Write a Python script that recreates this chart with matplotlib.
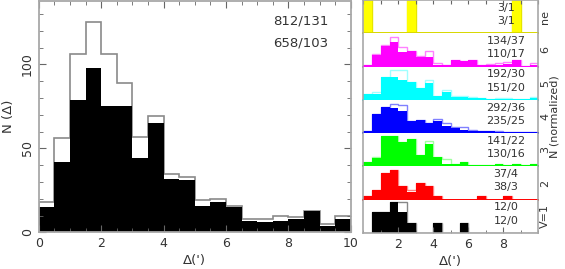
import numpy as np
import matplotlib
matplotlib.use("Agg")
import matplotlib.pyplot as plt
from matplotlib.ticker import MultipleLocator

# bins of 0.5 arcmin from 0 to 10
edges = np.arange(0, 10.01, 0.5)

# left panel: all pairs (outline) and pairs with a second criterion (black)
all_counts = [18, 56, 106, 125, 106, 89, 57, 69, 35, 33,
              19, 20, 16, 8, 8, 10, 9, 13, 5, 10]
sel_counts = [15, 42, 79, 98, 75, 75, 44, 65, 32, 31,
              16, 18, 15, 7, 6, 7, 8, 13, 4, 8]
left_text = ["812/131", "658/103"]

# right panels, top to bottom (normalized heights, % of panel)
row_names = ["ne", "6", "5", "4", "3", "2", "V=1"]
row_fill = ["#ffff00", "#ff00ff", "#00ffff", "#0000ff", "#00ff00", "#ff0000", "#000000"]
row_edge = ["#e6e600", "#ff80ff", "#a0ffff", "#8080ff", "#a0ffa0", "#ff8080", "#888888"]
row_text = [["3/1", "3/1"], ["134/37", "110/17"], ["192/30", "151/20"],
            ["292/36", "235/25"], ["141/22", "130/16"], ["37/4", "38/3"],
            ["12/0", "12/0"]]
ne_out = [100, 0, 0, 0, 0, 100, 0, 0, 0, 0, 0, 0, 0, 0, 0, 0, 0, 100, 0, 0]
ne_fill = [100, 0, 0, 0, 0, 100, 0, 0, 0, 0, 0, 0, 0, 0, 0, 0, 0, 100, 0, 0]
v6_out = [6, 38, 66, 89, 58, 48, 31, 48, 11, 6, 21, 16, 21, 6, 8, 11, 14, 20, 2, 11]
v6_fill = [6, 36, 61, 74, 44, 48, 29, 28, 6, 6, 21, 16, 21, 6, 6, 6, 9, 20, 2, 6]
v5_out = [17, 25, 70, 91, 89, 54, 35, 59, 12, 29, 12, 12, 10, 7, 4, 6, 5, 4, 2, 9]
v5_fill = [17, 19, 70, 70, 60, 54, 35, 50, 12, 25, 10, 10, 7, 5, 4, 4, 4, 4, 2, 7]
v4_out = [7, 59, 79, 89, 85, 35, 40, 30, 43, 30, 17, 17, 10, 7, 7, 5, 4, 4, 4, 4]
v4_fill = [7, 57, 79, 75, 67, 35, 39, 30, 35, 22, 15, 10, 7, 7, 5, 4, 4, 3, 4, 4]
v3_out = [13, 28, 90, 90, 73, 83, 33, 76, 28, 21, 8, 13, 3, 3, 3, 6, 3, 6, 3, 8]
v3_fill = [13, 26, 90, 90, 73, 83, 33, 68, 28, 8, 8, 13, 3, 3, 3, 6, 3, 6, 3, 6]
v2_out = [10, 30, 80, 90, 40, 30, 50, 40, 10, 0, 0, 0, 0, 10, 0, 0, 10, 0, 0, 0]
v2_fill = [10, 30, 80, 90, 40, 23, 50, 40, 10, 0, 0, 0, 0, 10, 0, 0, 10, 0, 0, 0]
v1_out = [0, 62, 62, 92, 92, 30, 0, 0, 30, 0, 0, 30, 0, 0, 0, 0, 0, 0, 0, 0]
v1_fill = [0, 62, 62, 92, 62, 30, 0, 0, 30, 0, 0, 30, 0, 0, 0, 0, 0, 0, 0, 0]
row_out = [ne_out, v6_out, v5_out, v4_out, v3_out, v2_out, v1_out]
row_vals = [ne_fill, v6_fill, v5_fill, v4_fill, v3_fill, v2_fill, v1_fill]

plt.rcParams['font.family'] = ['DejaVu Sans']
txtc = '#333333'
spc = '#a8a8a8'

fig = plt.figure(figsize=(5.65, 2.69), dpi=100)

# ---- left panel
ax = fig.add_axes([0.0685, 0.136, 0.5525, 0.862])
ax.stairs(all_counts, edges, color='#8a8a8a', lw=1.2, baseline=0)
ax.stairs(sel_counts, edges, fill=True, color='black', lw=0)
ax.set_xlim(0, 10)
ax.set_ylim(0, 138)
ax.xaxis.set_major_locator(MultipleLocator(2))
ax.xaxis.set_minor_locator(MultipleLocator(0.5))
ax.yaxis.set_major_locator(MultipleLocator(50))
ax.yaxis.set_minor_locator(MultipleLocator(10))
ax.tick_params(which='both', direction='in', top=True, right=True,
               color='#666666', labelcolor=txtc, labelsize=9)
ax.tick_params(which='major', length=5)
ax.tick_params(which='minor', length=3)
for lab in ax.get_yticklabels():
    lab.set_rotation(90)
    lab.set_va('center')
for s in ax.spines.values():
    s.set_color(spc)
    s.set_linewidth(1.3)
ax.set_xlabel("Δ(')", color=txtc, fontsize=9.5, labelpad=3)
ax.set_ylabel("N (Δ)", color=txtc, fontsize=9.5, labelpad=4)
ax.text(7.5, 126, left_text[0], color=txtc, fontsize=9.5, va='center')
ax.text(7.5, 112.5, left_text[1], color=txtc, fontsize=9.5, va='center')

# ---- right panels
x0, w = 0.643, 0.3097
bot, top = 0.1338, 1.0
h = (top - bot) / len(row_names)
axes = []
for i, name in enumerate(row_names):
    a = fig.add_axes([x0, top - (i + 1) * h, w, h])
    axes.append(a)
    a.stairs(row_out[i], edges, color=row_edge[i], lw=1.0, baseline=0)
    a.stairs(row_vals[i], edges, fill=True, color=row_fill[i], lw=0)
    a.set_xlim(0, 10)
    a.set_ylim(0, 100)
    a.set_yticks([])
    a.set_xticks([])
    for s in a.spines.values():
        s.set_color(spc)
        s.set_linewidth(1.2)
    a.spines['top'].set_visible(i == 0)
    if i < len(row_names) - 1:
        a.spines['bottom'].set_color(row_fill[i] if i > 0 else '#d8d800')
        a.spines['bottom'].set_linewidth(1.4)
    a.text(8.15, 77, row_text[i][0], color=txtc, fontsize=8, ha='center', va='center')
    a.text(8.15, 37, row_text[i][1], color=txtc, fontsize=8, ha='center', va='center')
    a.text(1.04, 0.5, name, transform=a.transAxes, rotation=90, color=txtc,
           fontsize=8, ha='center', va='center')

axt = axes[0]
axt.xaxis.set_major_locator(MultipleLocator(1))
axt.tick_params(axis='x', direction='in', top=True, bottom=False,
                labeltop=False, labelbottom=False, length=3, color='#666666')

axb = axes[-1]
axb.set_xticks([2, 4, 6, 8])
axb.xaxis.set_minor_locator(MultipleLocator(1))
axb.tick_params(axis='x', which='both', direction='in', color='#666666',
                labelcolor=txtc, labelsize=9)
axb.tick_params(which='major', length=4)
axb.tick_params(which='minor', length=2.5)
axb.set_xlabel("Δ(')", color=txtc, fontsize=9.5, labelpad=3)

fig.text(0.982, (bot + top) / 2, "N (normalized)", rotation=90, color=txtc,
         fontsize=8, ha='center', va='center')

fig.savefig("out.png", dpi=100)
